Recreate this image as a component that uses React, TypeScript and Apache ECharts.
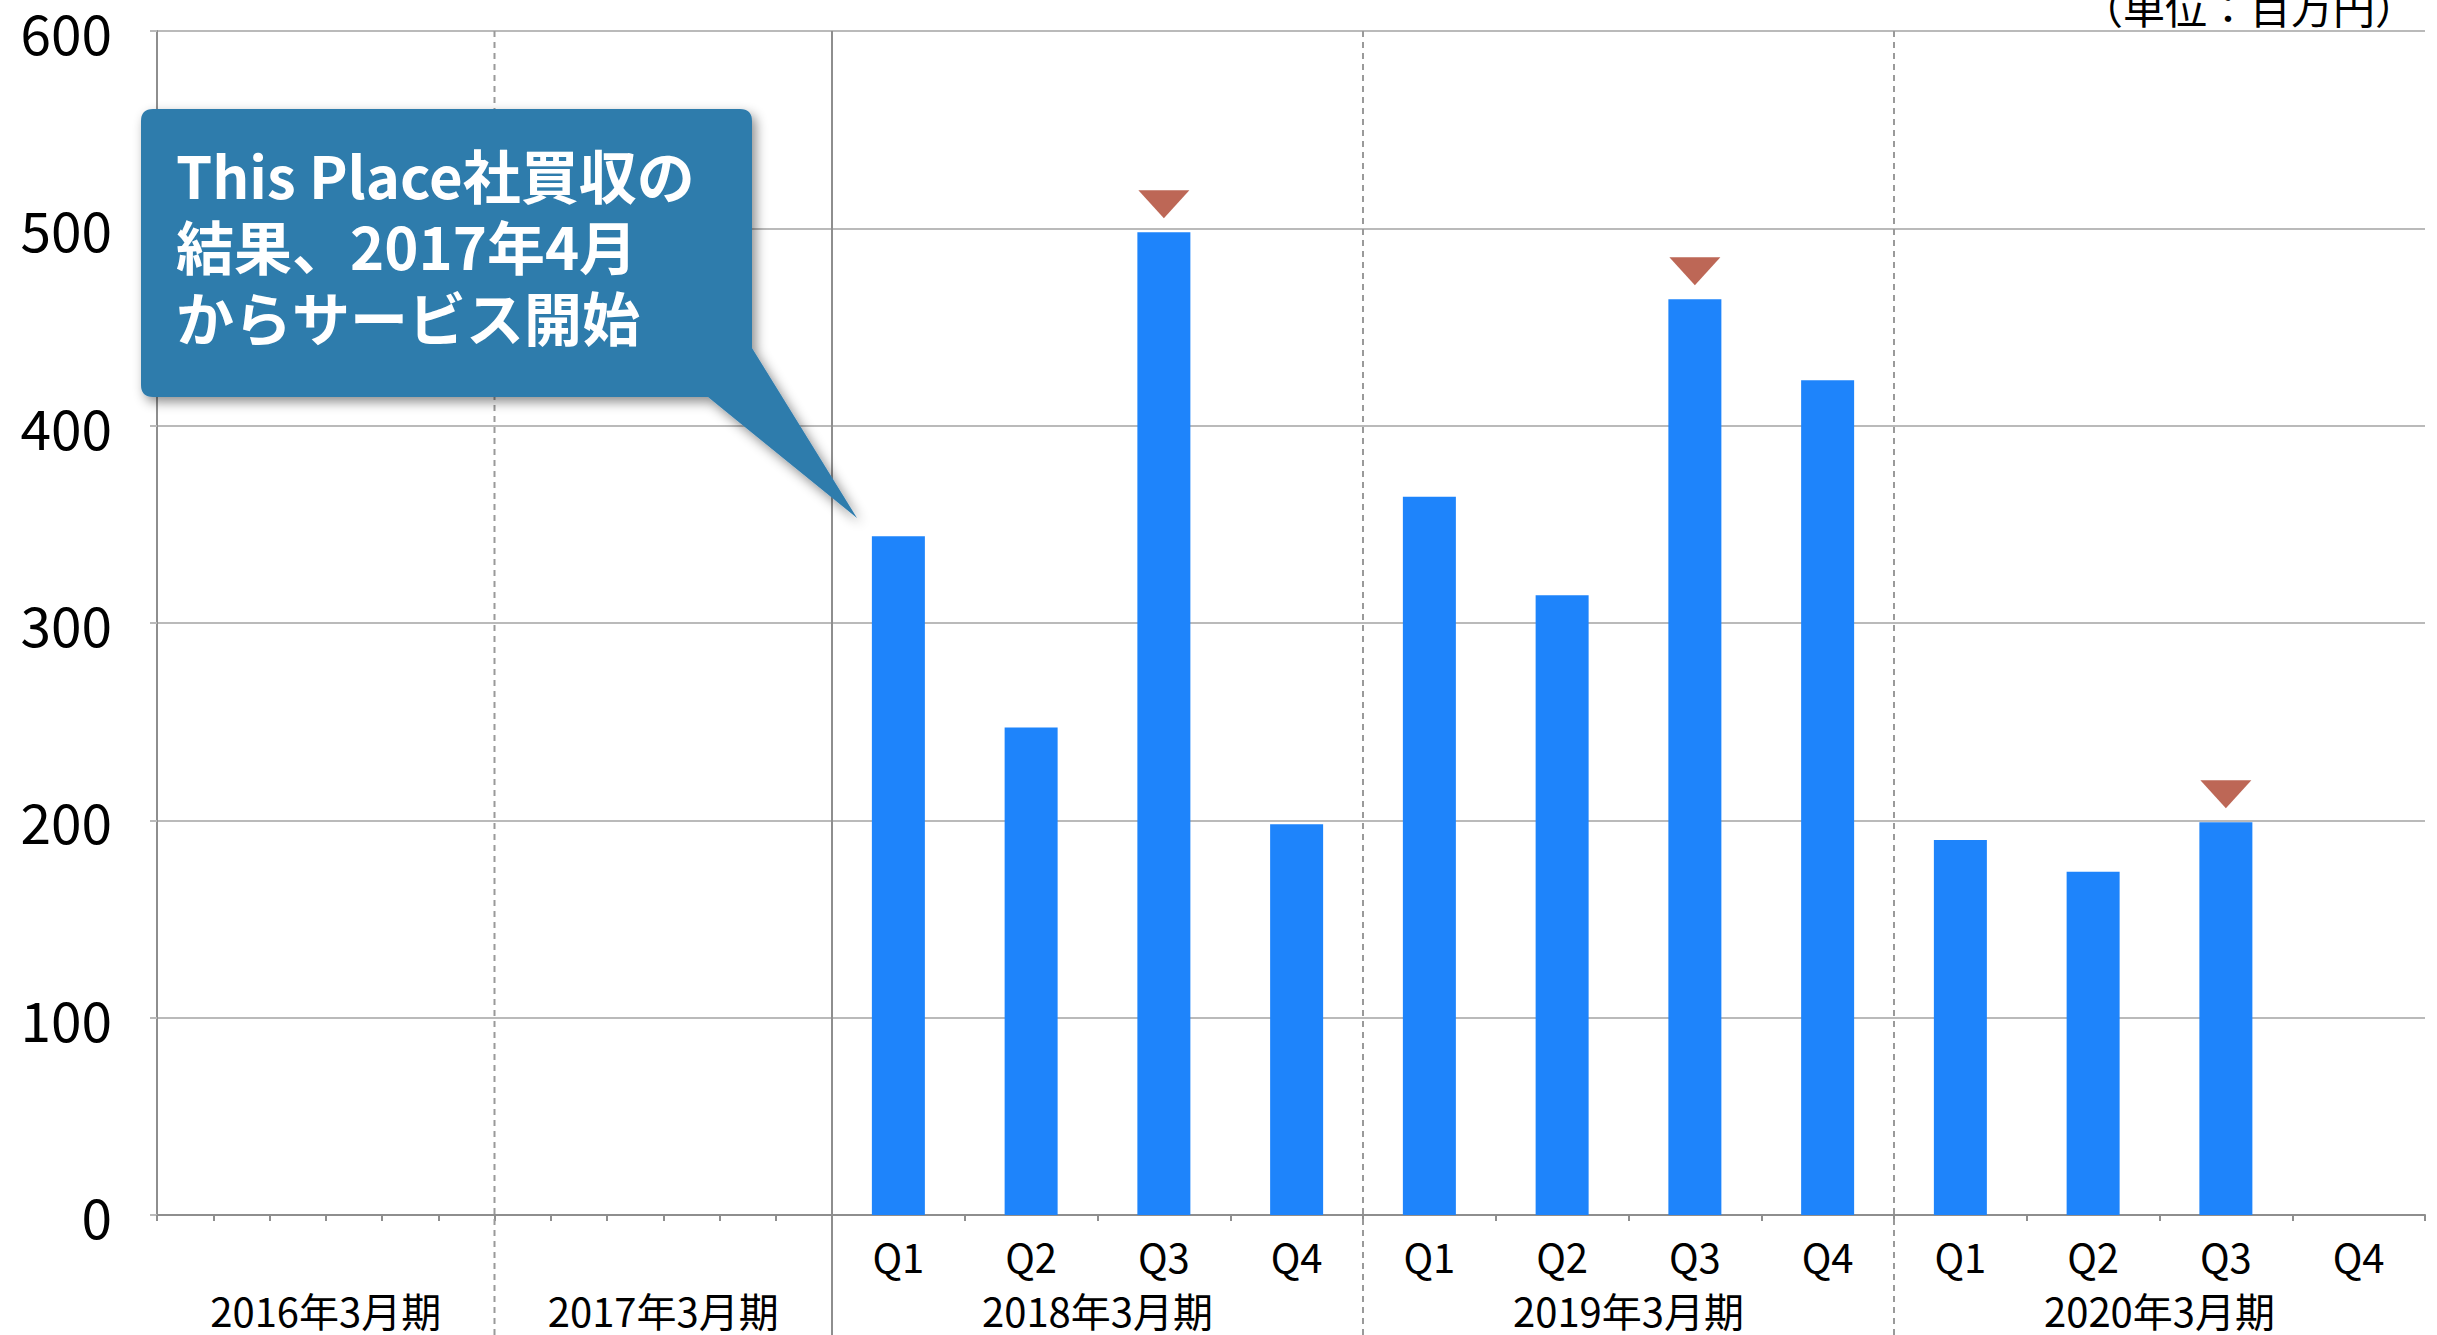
import React, { useEffect, useRef } from 'react';
import * as echarts from 'echarts';

// ---- data ----
const earlyPeriods = ['2016年3月期', '2017年3月期'];
const slotsPerEarlyPeriod = 6;
const quarterPeriods = ['2018年3月期', '2019年3月期', '2020年3月期'];
const quarterNames = ['Q1', 'Q2', 'Q3', 'Q4'];
const revenue: (number | null)[] = [344, 247, 498, 198, 364, 314, 464, 423, 190, 174, 199, null];
const peakFlags = [false, false, true, false, false, false, true, false, false, false, true, false];
const yMin = 0;
const yMax = 600;
const yStep = 100;
const unitLabel = '（単位：百万円）';
const calloutLines = ['This Place社買収の', '結果、2017年4月', 'からサービス開始'];

const FONT = "'Noto Sans CJK JP', 'Noto Sans', sans-serif";

const CALLOUT_D =
  'M153,109 H740 Q752,109 752,121 V348 L857,518 L708,397 H153 Q141,397 141,385 V121 Q141,109 153,109 Z';
echarts.graphic.registerShape('callout', echarts.graphic.extendPath(CALLOUT_D, {}) as any);

const earlySlots = earlyPeriods.flatMap((p) =>
  Array.from({ length: slotsPerEarlyPeriod }, (_, i) => `${p}-${i + 1}`)
);
const quarterCats = quarterPeriods.flatMap((p) => quarterNames.map((q) => `${p}|${q}`));

const AXIS_COLOR = '#8e8e8e';
const GRID_COLOR = '#bababa';

function buildOption(): any {
  const tickAxis = (gridIndex: number, data: string[], showLabel: boolean) => ({
    type: 'category',
    gridIndex,
    data,
    position: 'bottom',
    boundaryGap: true,
    axisLine: { show: true, lineStyle: { color: AXIS_COLOR, width: 2 } },
    axisTick: { show: true, length: 6, interval: 0, lineStyle: { color: AXIS_COLOR, width: 2 } },
    axisLabel: showLabel
      ? {
          show: true,
          interval: 0,
          margin: 21,
          fontSize: 40,
          color: '#000',
          fontFamily: FONT,
          formatter: (v: string) => v.split('|')[1],
        }
      : { show: false },
    splitLine: { show: false },
  });
  const periodAxis = (gridIndex: number, data: string[]) => ({
    type: 'category',
    gridIndex,
    data,
    position: 'bottom',
    boundaryGap: true,
    axisLine: { show: false },
    axisTick: { show: false },
    axisLabel: { show: true, interval: 0, margin: 75, fontSize: 40, color: '#000', fontFamily: FONT },
    splitLine: { show: false },
  });
  const valueAxis = (gridIndex: number, visible: boolean) => ({
    type: 'value',
    gridIndex,
    min: yMin,
    max: yMax,
    interval: yStep,
    axisLine: { show: visible, lineStyle: { color: AXIS_COLOR, width: 2 } },
    axisTick: { show: visible, length: 7, lineStyle: { color: GRID_COLOR, width: 2 } },
    axisLabel: visible
      ? { show: true, fontSize: 55, color: '#000', margin: 45, fontFamily: FONT }
      : { show: false },
    splitLine: { show: true, lineStyle: { color: GRID_COLOR, width: 2 } },
  });

  return {
    animation: false,
    backgroundColor: '#ffffff',
    textStyle: { fontFamily: FONT },
    grid: [
      { left: 157, top: 31, width: 675, height: 1184 },
      { left: 832, top: 31, width: 1593, height: 1184 },
    ],
    xAxis: [
      tickAxis(0, earlySlots, false),
      periodAxis(0, earlyPeriods),
      tickAxis(1, quarterCats, true),
      periodAxis(1, quarterPeriods),
    ],
    yAxis: [valueAxis(0, true), valueAxis(1, false)],
    series: [
      {
        type: 'bar',
        xAxisIndex: 2,
        yAxisIndex: 1,
        data: revenue.map((v) => (v == null ? '-' : v)),
        barWidth: 53,
        itemStyle: { color: '#1e84fb' },
      },
      {
        type: 'scatter',
        xAxisIndex: 2,
        yAxisIndex: 1,
        data: revenue.map((v, i) => (peakFlags[i] && v != null ? v : '-')),
        symbol: 'path://M0,0L10,0L5,5.5Z',
        symbolSize: [51, 28],
        symbolOffset: [0, -28],
        itemStyle: { color: '#ad412c' },
        z: 3,
      },
    ],
  };
}

export default function App() {
  const ref = useRef<HTMLDivElement>(null);
  useEffect(() => {
    const chart = echarts.init(ref.current!, undefined, { renderer: 'svg' });
    chart.setOption(buildOption());

    const cx = (axisIdx: number, name: string) =>
      chart.convertToPixel({ xAxisIndex: axisIdx } as any, name) as number;
    const topY = chart.convertToPixel({ yAxisIndex: 0 } as any, yMax) as number;
    const bottomY = chart.getHeight();

    const e0 = cx(1, earlyPeriods[0]);
    const e1 = cx(1, earlyPeriods[1]);
    const q0 = cx(3, quarterPeriods[0]);
    const q1 = cx(3, quarterPeriods[1]);
    const q2 = cx(3, quarterPeriods[2]);

    const dashed = [(e0 + e1) / 2, (q0 + q1) / 2, (q1 + q2) / 2];
    const solid = q0 - (q1 - q0) / 2;

    const lines: any[] = dashed.map((x) => ({
      type: 'line',
      z: 5,
      shape: { x1: x, y1: topY, x2: x, y2: bottomY },
      style: { stroke: '#9a9a9a', lineWidth: 2, lineDash: [6, 5] },
    }));
    lines.push({
      type: 'line',
      z: 5,
      shape: { x1: solid, y1: topY, x2: solid, y2: bottomY },
      style: { stroke: AXIS_COLOR, lineWidth: 2 },
    });

    const calloutTexts = calloutLines.map((line, i) => ({
      type: 'text',
      x: 176,
      y: 174 + i * 71,
      z: 101,
      style: {
        text: line,
        fill: '#ffffff',
        fontSize: 58,
        fontWeight: 'bold',
        fontFamily: FONT,
        align: 'left',
        verticalAlign: 'middle',
      },
    }));

    chart.setOption({
      graphic: [
        ...lines,
        {
          type: 'callout',
          x: 0,
          y: 0,
          scaleX: 1,
          scaleY: 1,
          z: 100,
          style: {
            fill: '#2f7bac',
            shadowBlur: 12,
            shadowColor: 'rgba(0,0,0,0.45)',
            shadowOffsetX: 4,
            shadowOffsetY: 5,
          },
        },
        ...calloutTexts,
        {
          type: 'text',
          x: 2417,
          y: 5,
          z: 10,
          style: {
            text: unitLabel,
            fill: '#000000',
            fontSize: 42,
            fontFamily: FONT,
            align: 'right',
            verticalAlign: 'middle',
          },
        },
      ],
    });

    return () => chart.dispose();
  }, []);
  return (
    <div
      ref={ref}
      style={{ position: 'absolute', left: 0, top: 0, width: 2437, height: 1335, background: '#fff' }}
    />
  );
}
